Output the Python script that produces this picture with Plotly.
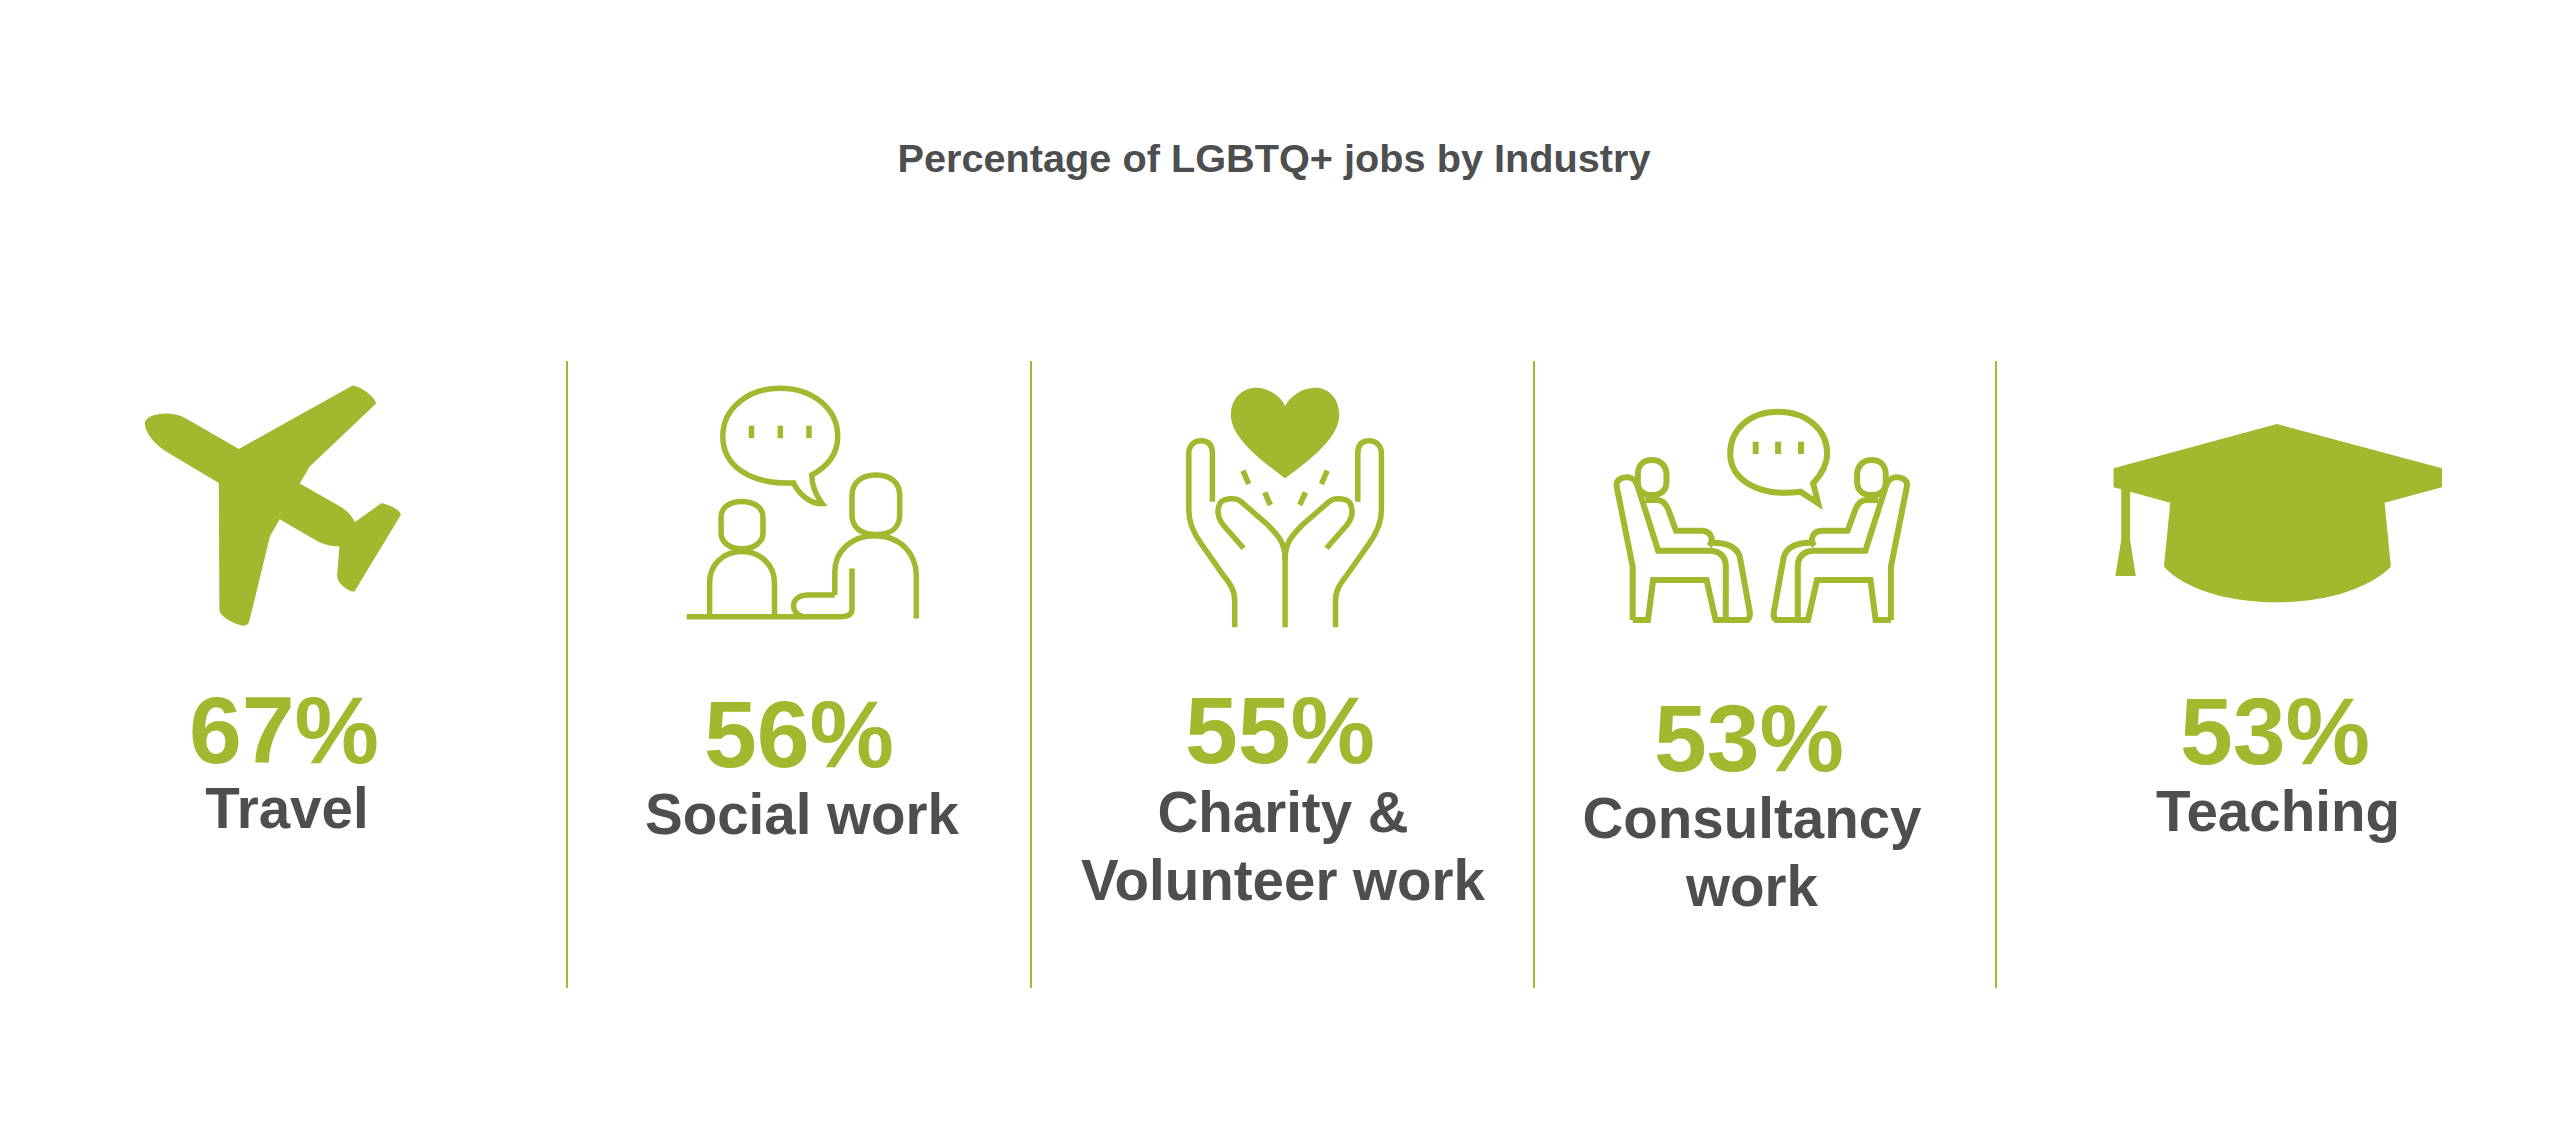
import plotly.graph_objects as go

# chart values
categories = ["Travel", "Social work", "Charity &<br>Volunteer work", "Consultancy<br>work", "Teaching"]
percentages = [67, 56, 55, 53, 53]
title_text = "Percentage of LGBTQ+ jobs by Industry"

GREEN = "#A3B82F"
GREY = "#4D4E50"
FONT = "Liberation Sans"
W, H = 2560, 1131

# pixel layout
value_x = [284, 799, 1280, 1749, 2275]
value_y = [739, 743, 739, 747, 740]
label_x = [287, 802, 1283, 1752, 2278]
label_y = [814, 820, 818, 824, 817]
divider_x = [567, 1031, 1534, 1996]
LINE_H = 68


def path(d, ox, oy, sx, sy, mirror=None):
    """Scale an absolute SVG path drawn on a zoomed crop back to page pixels"""
    res = []
    is_x = True
    for tok in d.split():
        if tok.isalpha():
            res.append(tok)
            continue
        v = float(tok)
        if is_x:
            if mirror is not None:
                v = 2 * mirror - v
            res.append(f"{ox + v / sx:.1f}")
        else:
            res.append(f"{oy + v / sy:.1f}")
        is_x = not is_x
    return " ".join(res)


shapes = []


def fill(d, crop, mirror=None):
    shapes.append(dict(type="path", path=path(d, *crop, mirror=mirror), fillcolor=GREEN,
                       line=dict(width=0), layer="above"))


def stroke(d, crop, mirror=None, width=5.5):
    shapes.append(dict(type="path", path=path(d, *crop, mirror=mirror), fillcolor="rgba(0,0,0,0)",
                       line=dict(color=GREEN, width=width), layer="above"))


# crops the icons were traced on
CROP_A = (100, 340, 1.742, 2.8)
CROP_B = (1000, 340, 1.568, 3)
CROP_C = (1500, 340, 1.568, 3)

# dividers
for x in divider_x:
    shapes.append(dict(type="line", x0=x, x1=x, y0=361, y1=988, line=dict(color=GREEN, width=2)))

# plane
fill("M 440 127 C 455 130 480 160 481 178 L 365 355 L 348 402 L 420 468 C 432 480 440 495 444 510 "
     "L 490 457 C 505 460 525 478 524 490 L 443 705 C 430 702 413 680 413 660 L 417 578 "
     "C 400 578 385 570 375 560 L 313 502 L 296 550 L 262 775 C 260 790 258 800 250 800 "
     "C 235 798 208 775 208 755 L 207 400 L 115 312 C 95 290 78 260 78 232 C 80 205 125 195 150 220 "
     "L 242 305 Z", CROP_A)

# social work
stroke("M 1240 378 C 1272 350 1285 310 1285 270 C 1285 190 1240 135 1185 135 C 1130 135 1085 190 1085 270 "
       "C 1085 350 1130 405 1208 400 C 1215 425 1235 460 1258 458 C 1245 430 1240 405 1240 378 Z", CROP_A)
for x in [1135, 1185, 1235]:
    stroke(f"M {x} 240 L {x} 275", CROP_A)
stroke("M 1118 452 C 1140 452 1155 470 1155 495 L 1155 540 C 1155 565 1140 585 1118 585 "
       "C 1096 585 1082 565 1082 540 L 1082 495 C 1082 470 1096 452 1118 452 Z", CROP_A)
stroke("M 1062 775 L 1062 680 C 1062 630 1085 592 1118 592 C 1150 592 1175 630 1175 680 L 1175 775", CROP_A)
stroke("M 1352 378 C 1378 378 1393 400 1393 435 L 1393 490 C 1393 525 1378 545 1352 545 "
       "C 1326 545 1310 525 1310 490 L 1310 435 C 1310 400 1326 378 1352 378 Z", CROP_A)
stroke("M 1280 714 L 1280 650 C 1280 590 1310 548 1350 548 C 1395 548 1422 600 1422 660 L 1422 780", CROP_A)
stroke("M 1022 775 L 1290 775 C 1305 775 1310 765 1310 755 L 1310 640", CROP_A)
stroke("M 1280 714 L 1235 714 C 1215 714 1208 730 1208 745 C 1208 760 1215 770 1225 775", CROP_A)

# hands and heart
fill("M 447 415 C 420 375 362 300 362 225 C 362 175 380 143 402 143 C 422 143 440 170 447 198 "
     "C 455 170 472 143 495 143 C 515 143 532 175 532 225 C 532 300 475 375 447 415 Z", CROP_B)
stroke("M 447 862 L 447 640", CROP_B)
for m in [None, 447]:
    stroke("M 368 862 L 368 780 C 368 750 360 730 350 705 L 315 610 C 300 570 296 540 296 510 L 296 340 "
           "C 296 315 305 302 315 302 C 327 302 333 315 333 340 L 333 485", CROP_B, mirror=m)
    stroke("M 382 625 L 350 555 C 340 530 340 510 345 490 C 350 475 370 470 378 485 L 420 555 "
           "C 438 590 447 610 447 660", CROP_B, mirror=m)
    stroke("M 381 392 L 390 432", CROP_B, mirror=m)
    stroke("M 415 457 L 424 495", CROP_B, mirror=m)

# consultancy, the two people mirror each other
stroke("M 1275 430 C 1290 400 1297 370 1297 340 C 1297 270 1265 215 1220 215 C 1175 215 1145 270 1145 340 "
       "C 1145 420 1190 472 1255 455 L 1283 490 L 1275 430 Z", CROP_B, width=6)
for x in [1185, 1220, 1256]:
    stroke(f"M {x} 305 L {x} 342", CROP_B, width=6)
for m in [None, 1194.5]:
    stroke("M 1022 360 C 1037 360 1045 380 1045 405 L 1045 425 C 1045 450 1037 465 1022 465 "
           "C 1007 465 1000 450 1000 425 L 1000 405 C 1000 380 1007 360 1022 360 Z", CROP_B, mirror=m, width=6)
    stroke("M 992 840 L 992 680 L 967 440 C 965 420 975 410 985 412 C 992 413 998 425 1000 440 L 1032 632 "
           "L 1115 632 C 1130 635 1138 650 1138 680 L 1138 840", CROP_B, mirror=m, width=6)
    stroke("M 992 840 L 1016 840 L 1024 720 L 1108 720 L 1122 840 L 1172 840 C 1178 830 1176 820 1175 810 "
           "L 1160 650 C 1155 620 1140 608 1118 608", CROP_B, mirror=m, width=6)
    stroke("M 1012 480 L 1030 480 C 1040 480 1045 495 1048 510 L 1060 572 L 1100 572 C 1115 572 1120 600 1112 618",
           CROP_B, mirror=m, width=6)

# cap
fill("M 1218 252 L 1477 385 L 1477 442 L 1387 488 L 1397 680 C 1360 750 1290 787 1218 787 "
     "C 1145 787 1075 750 1041 680 L 1051 488 L 988 455 L 988 600 L 997 708 L 965 708 L 974 600 "
     "L 974 448 L 962 442 L 962 385 Z", CROP_C)

fig = go.Figure()

fig.add_trace(go.Scatter(
    x=value_x, y=value_y, mode="text",
    text=[f"{p}%" for p in percentages],
    textposition="middle center",
    textfont=dict(family=FONT, size=95, color=GREEN, weight=700),
    hoverinfo="skip",
))

# labels, one point per text line so the spacing stays under control
line_x, line_y, line_text = [], [], []
for cat, x, y in zip(categories, label_x, label_y):
    for i, part in enumerate(cat.split("<br>")):
        line_x.append(x)
        line_y.append(y + i * LINE_H)
        line_text.append(part)

fig.add_trace(go.Scatter(
    x=line_x, y=line_y, mode="text", text=line_text,
    textposition="middle center",
    textfont=dict(family=FONT, size=56.5, color=GREY, weight=700),
    hoverinfo="skip",
))

fig.update_layout(
    width=W, height=H,
    margin=dict(l=0, r=0, t=0, b=0),
    paper_bgcolor="white", plot_bgcolor="white",
    showlegend=False,
    title=dict(text=title_text, x=1274 / W, y=1 - 158 / H, xanchor="center", yanchor="middle",
               font=dict(family=FONT, size=39.7, color=GREY, weight=700)),
    xaxis=dict(range=[0, W], visible=False, fixedrange=True),
    yaxis=dict(range=[H, 0], visible=False, fixedrange=True),
    shapes=shapes,
)

# the default page leaves an 8px body margin
fig.write_html("out.html", config={"displayModeBar": False},
               post_script="document.body.style.margin = '0';")
